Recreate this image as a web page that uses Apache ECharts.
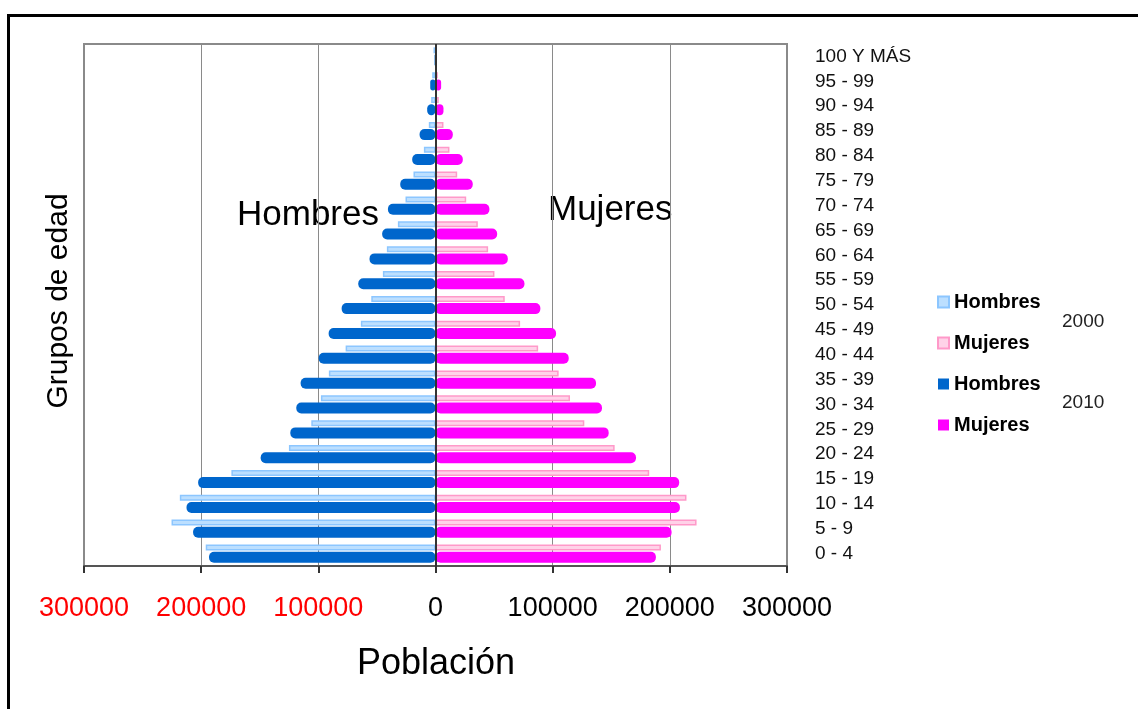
<!DOCTYPE html>
<html>
<head>
<meta charset="utf-8">
<script src="https://cdn.jsdelivr.net/npm/echarts@6/dist/echarts.min.js"></script>
<style>
html,body{margin:0;padding:0;background:#fff;}
#chart{width:1138px;height:709px;}
</style>
</head>
<body>
<div id="chart"></div>
<script>
var categories = ['0 - 4','5 - 9','10 - 14','15 - 19','20 - 24','25 - 29','30 - 34','35 - 39','40 - 44','45 - 49','50 - 54','55 - 59','60 - 64','65 - 69','70 - 74','75 - 79','80 - 84','85 - 89','90 - 94','95 - 99','100 Y MÁS'];
var hombres2000 = [196100, 225300, 218200, 174200, 125100, 106000, 97800, 91000, 76700, 63700, 54800, 44900, 41500, 32100, 25600, 18800, 9900, 5700, 3700, 2800, 1700];
var mujeres2000 = [192400, 222800, 214200, 182400, 152900, 127000, 114800, 105100, 87600, 72200, 59100, 50300, 44900, 36100, 26200, 18500, 11900, 6800, 2800, 2000, 1000];
var hombres2010 = [193300, 206900, 212500, 202600, 149200, 123900, 118800, 115100, 99700, 91200, 80100, 65900, 56300, 45500, 40600, 30100, 19900, 13600, 7100, 4500, 800];
var mujeres2010 = [188100, 201500, 208600, 208000, 171100, 147800, 142100, 137000, 113700, 102900, 89500, 75900, 61700, 52600, 46000, 31800, 23300, 14800, 6800, 4800, 600];
var xTicks = {min: -300000, max: 300000, interval: 100000};

var FONT = '"Liberation Sans", Arial, sans-serif';
var chart = echarts.init(document.getElementById('chart'), null, {renderer: 'canvas'});

function neg(arr){ return arr.map(function(v){ return -v; }); }

var option = {
  backgroundColor: '#ffffff',
  animation: false,
  textStyle: {fontFamily: FONT},
  grid: {left: 84, right: 351, top: 44, bottom: 143, show: true, borderColor: '#8a8a8a', borderWidth: 2, containLabel: false},
  xAxis: {
    type: 'value',
    min: xTicks.min, max: xTicks.max, interval: xTicks.interval,
    axisLine: {show: true, lineStyle: {color: '#555', width: 2}},
    axisTick: {show: true, length: 7, lineStyle: {color: '#333', width: 2}},
    splitLine: {show: true, lineStyle: {color: '#8a8a8a', width: 1}},
    axisLabel: {
      margin: 29,
      fontFamily: FONT,
      fontSize: 27,
      formatter: function(v){ return v < 0 ? '{r|' + (-v) + '}' : '{k|' + v + '}'; },
      rich: {
        r: {color: '#ff0000', fontSize: 27, fontFamily: FONT},
        k: {color: '#000000', fontSize: 27, fontFamily: FONT}
      }
    }
  },
  yAxis: {
    type: 'category',
    data: categories,
    position: 'right',
    axisLine: {show: false},
    axisTick: {show: false},
    splitLine: {show: false},
    axisLabel: {margin: 28, fontSize: 19, color: '#111', fontFamily: FONT}
  },
  legend: {
    orient: 'vertical',
    left: 932,
    top: 287,
    icon: 'rect',
    itemWidth: 11,
    itemHeight: 11,
    itemGap: 21,
    formatter: function(name){ return name.split(' ')[0]; },
    textStyle: {fontSize: 20, fontWeight: 'bold', color: '#000', fontFamily: FONT, lineHeight: 20},
    data: ['Hombres 2000', 'Mujeres 2000', 'Hombres 2010', 'Mujeres 2010']
  },
  series: [
    {
      name: 'Hombres 2000', type: 'bar', stack: 's2000', barWidth: 6, barGap: '20%',
      data: neg(hombres2000),
      itemStyle: {color: '#bcdfff', borderColor: '#8cc6ff', borderWidth: 1.5}
    },
    {
      name: 'Mujeres 2000', type: 'bar', stack: 's2000', barWidth: 6, barGap: '20%',
      data: mujeres2000,
      itemStyle: {color: '#ffd2e8', borderColor: '#ff99c9', borderWidth: 1.5}
    },
    {
      name: 'Hombres 2010', type: 'bar', stack: 's2010', barWidth: 11, barGap: '20%',
      data: neg(hombres2010),
      itemStyle: {color: '#0066cc', borderRadius: 5}
    },
    {
      name: 'Mujeres 2010', type: 'bar', stack: 's2010', barWidth: 11, barGap: '20%',
      data: mujeres2010,
      itemStyle: {color: '#ff00ff', borderRadius: 5},
      markLine: {
        silent: true, symbol: 'none', animation: false,
        label: {show: false},
        lineStyle: {color: '#333', width: 2, type: 'solid'},
        data: [{xAxis: 0}]
      }
    }
  ],
  graphic: [
    {type: 'rect', shape: {x: 8.5, y: 15.5, width: 1140, height: 700}, style: {fill: 'none', stroke: '#000', lineWidth: 3}, silent: true},
    {type: 'text', x: 237, y: 215, style: {text: 'Hombres', fontSize: 35, fontFamily: FONT, fill: '#000', textVerticalAlign: 'middle', textAlign: 'left'}},
    {type: 'text', x: 548, y: 210, style: {text: 'Mujeres', fontSize: 35, fontFamily: FONT, fill: '#000', textVerticalAlign: 'middle', textAlign: 'left'}},
    {type: 'text', x: 1062, y: 322, style: {text: '2000', fontSize: 19, fontFamily: FONT, fill: '#222', textVerticalAlign: 'middle', textAlign: 'left'}},
    {type: 'text', x: 1062, y: 403, style: {text: '2010', fontSize: 19, fontFamily: FONT, fill: '#222', textVerticalAlign: 'middle', textAlign: 'left'}},
    {type: 'text', x: 436, y: 664, style: {text: 'Población', fontSize: 36, fontFamily: FONT, fill: '#000', textVerticalAlign: 'middle', textAlign: 'center'}},
    {type: 'text', x: 59, y: 301, rotation: Math.PI / 2, style: {text: 'Grupos de edad', fontSize: 30, fontFamily: FONT, fill: '#000', textVerticalAlign: 'middle', textAlign: 'center'}}
  ]
};
chart.setOption(option);
</script>
</body>
</html>
